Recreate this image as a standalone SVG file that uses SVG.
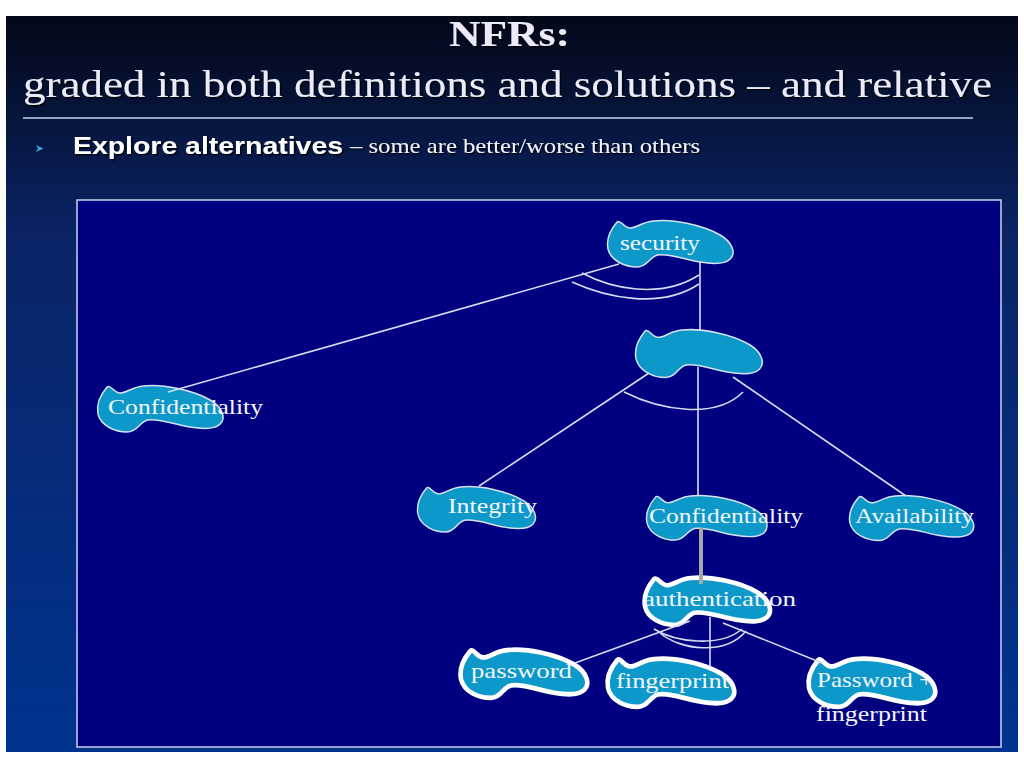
<svg xmlns="http://www.w3.org/2000/svg" width="1024" height="768" viewBox="0 0 1024 768">
<defs>
  <linearGradient id="bg" x1="0" y1="0" x2="0" y2="1">
    <stop offset="0" stop-color="#030818"/>
    <stop offset="0.3" stop-color="#0a2466"/>
    <stop offset="1" stop-color="#00338e"/>
  </linearGradient>
  <filter id="shadow" x="-5%" y="-20%" width="110%" height="150%">
    <feDropShadow dx="1.5" dy="1.5" stdDeviation="0.6" flood-color="#000000" flood-opacity="0.8"/>
  </filter>
  <path id="blob" d="M10,3 C13,0 16,8 22,9 C28,10 34,3 46,2 C66,0 95,6 112,16 C124,23 128,34 122,40 C116,46 104,45 92,43 C78,41 62,34 50,36 C42,38 40,48 30,48 C18,48 4,42 1,30 C-1,20 4,10 10,3 Z"/>
</defs>
<style>
  .title { font-family: "Liberation Serif", serif; fill: #eaeaf8; }
  .blob { fill: #0c99c9; stroke: #d6e2f4; stroke-width: 1.5; }
  .blobw { fill: #0c99c9; stroke: #ffffff; stroke-width: 4.5; }
  .lbl { font-family: "Liberation Serif", serif; font-size: 22px; fill: #f4f6ff; }
  .conn { fill: none; stroke: #d4dcf2; stroke-width: 1.6; }
  .thick { fill: none; stroke: #a8a8a8; stroke-width: 4; }
</style>

<rect x="0" y="0" width="1024" height="768" fill="#ffffff"/>
<rect x="6" y="16" width="1012" height="736" fill="url(#bg)"/>

<g id="header" filter="url(#shadow)">
  <text class="title" x="449" y="46" font-size="35" font-weight="bold" textLength="121" lengthAdjust="spacingAndGlyphs">NFRs:</text>
  <text class="title" x="23" y="97" font-size="37" textLength="969" lengthAdjust="spacingAndGlyphs">graded in both definitions and solutions – and relative</text>
</g>
<line x1="23" y1="118" x2="973" y2="118" stroke="#c8d2f0" stroke-width="1.5"/>
<polygon points="36,145 43.5,148.5 36,152 38,148.5" fill="#3aa6dc"/>
<g filter="url(#shadow)">
  <text x="73" y="154" font-family="Liberation Sans, Arial, sans-serif" font-size="23" font-weight="bold" fill="#ffffff" textLength="270" lengthAdjust="spacingAndGlyphs">Explore alternatives</text>
  <text x="350" y="153" font-family="Liberation Serif, serif" font-size="21" fill="#eef0fa" textLength="350" lengthAdjust="spacingAndGlyphs">– some are better/worse  than others</text>
</g>

<rect x="77" y="200" width="924" height="547" fill="#000080" stroke="#c8d4f0" stroke-width="1.5"/>

<g id="n-security">
  <use href="#blob" class="blob" transform="translate(607,219) scale(1.01,1)"/>
  <text class="lbl" x="620" y="250" textLength="80" lengthAdjust="spacingAndGlyphs">security</text>
</g>
<g id="n-unlabeled">
  <use href="#blob" class="blob" transform="translate(635,328) scale(1.02,1.03)"/>
</g>
<g id="n-confidentiality-left">
  <use href="#blob" class="blob" transform="translate(97,384) scale(1.01,1)"/>
  <text class="lbl" x="108" y="414" textLength="155" lengthAdjust="spacingAndGlyphs">Confidentiality</text>
</g>
<g id="n-integrity">
  <use href="#blob" class="blob" transform="translate(417,485) scale(0.95,0.98)"/>
  <text class="lbl" x="448" y="513" textLength="89" lengthAdjust="spacingAndGlyphs">Integrity</text>
</g>
<g id="n-confidentiality">
  <use href="#blob" class="blob" transform="translate(646,494) scale(0.97,0.96)"/>
  <text class="lbl" x="649" y="523" textLength="154" lengthAdjust="spacingAndGlyphs">Confidentiality</text>
</g>
<g id="n-availability">
  <use href="#blob" class="blob" transform="translate(849,494) scale(1,0.97)"/>
  <text class="lbl" x="855" y="523" textLength="119" lengthAdjust="spacingAndGlyphs">Availability</text>
</g>
<g id="n-authentication">
  <use href="#blob" class="blobw" transform="translate(644,576) scale(1.01,1.02)"/>
  <text class="lbl" x="643" y="606" textLength="153" lengthAdjust="spacingAndGlyphs">authentication</text>
</g>
<g id="n-password">
  <use href="#blob" class="blobw" transform="translate(460,648) scale(1.02,1.04)"/>
  <text class="lbl" x="471" y="678" textLength="101" lengthAdjust="spacingAndGlyphs">password</text>
</g>
<g id="n-fingerprint">
  <use href="#blob" class="blobw" transform="translate(607,657) scale(1.02,1.04)"/>
  <text class="lbl" x="616" y="688" textLength="113" lengthAdjust="spacingAndGlyphs">fingerprint</text>
</g>
<g id="n-password-fingerprint">
  <use href="#blob" class="blobw" transform="translate(808,657) scale(1.02,1.04)"/>
  <text class="lbl" x="817" y="687" textLength="116" lengthAdjust="spacingAndGlyphs">Password +</text>
  <text class="lbl" x="816" y="721" textLength="111" lengthAdjust="spacingAndGlyphs">fingerprint</text>
</g>

<g id="connectors">
  <path class="conn" d="M619,264 L168,392"/>
  <path class="conn" d="M700,262 L700,330"/>
  <path class="conn" d="M582,273 C610,288 660,300 699,275"/>
  <path class="conn" d="M572,282 C605,297 660,310 699,284"/>
  <path class="conn" d="M649,373 L479,486"/>
  <path class="conn" d="M698,367 L698,496"/>
  <path class="conn" d="M733,377 L906,496"/>
  <path class="conn" d="M624,392 C660,410 715,420 743,392"/>
  <path class="thick" d="M701,528 L701,584"/>
  <path class="conn" d="M690,621 L575,663"/>
  <path class="conn" d="M710,617 L710,667"/>
  <path class="conn" d="M723,623 L822,663"/>
  <path class="conn" d="M654,629 C675,642 720,648 742,629"/>
  <path class="conn" d="M660,633 C680,650 725,656 746,631"/>
</g>
</svg>
